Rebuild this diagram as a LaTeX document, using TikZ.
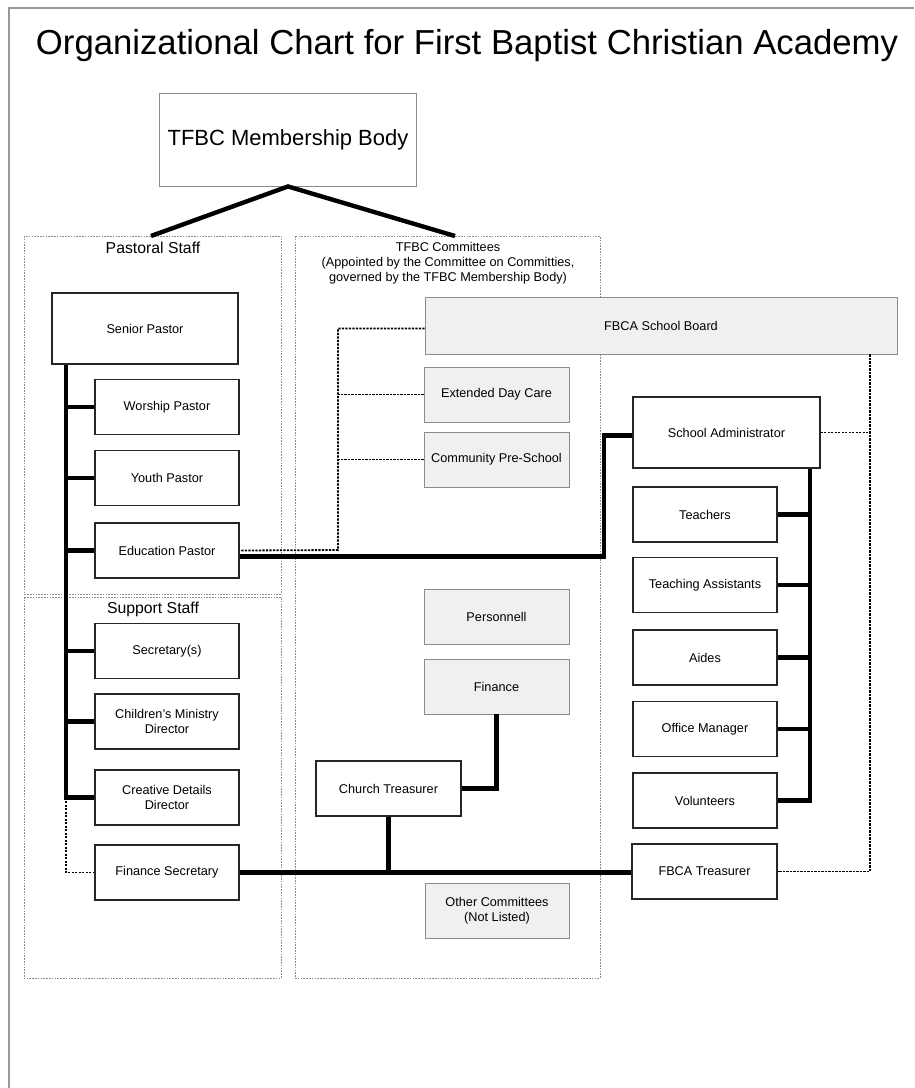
\documentclass[tikz,border=0pt]{standalone}
\usepackage{fontspec}
\setmainfont{Liberation Sans}
\begin{document}
\begin{tikzpicture}[x=1pt,y=-1pt,
  bx/.style={draw=black!85,line width=1.4pt,fill=white,minimum width=144pt,minimum height=55pt,inner sep=2pt,align=center,font=\fontsize{12.7}{14.5}\selectfont},
  gbx/.style={bx,draw=black!45,line width=0.9pt,fill=black!6},
  container/.style={draw=black!45,line width=0.8pt,dash pattern=on 1.6pt off 1.2pt},
  thickline/.style={line width=4.4pt},
  dotline/.style={line width=1.8pt,dash pattern=on 2.2pt off 1.3pt},
  lbl/.style={inner sep=0pt,font=\fontsize{15.8}{18}\selectfont}]
\useasboundingbox (0,0) rectangle (914,1088);
% page border
\draw[black!40,line width=1.2pt] (9,1088) -- (9,8) -- (914,8);
% title
\node[anchor=base,inner sep=0pt,font=\fontsize{34.7}{40}\selectfont] (title) at (467,54) {Organizational Chart for First Baptist Christian Academy};
% containers
\draw[container] (24,236) rectangle (281,594);
\draw[container] (24,597) rectangle (281,978);
\draw[container] (295,236) rectangle (600,978);
\node[lbl] (plabel) at (153,248) {Pastoral Staff};
\node[lbl] (slabel) at (153,609) {Support Staff};
\node[inner sep=0pt,align=center,font=\fontsize{12.7}{15}\selectfont] (clabel) at (448,263) {TFBC Committees\\(Appointed by the Committee on Committies,\\governed by the TFBC Membership Body)};
% membership
\node[bx,draw=black!45,line width=0.9pt,minimum width=257pt,minimum height=93pt,font=\fontsize{22}{26}\selectfont] (member) at (288,139.5) {TFBC Membership Body};
\coordinate (pA) at (151,236);
\coordinate (cA) at (455,236);
\draw[thickline] (pA) -- (member.south) -- (cA);
% pastoral
\node[bx,minimum width=186pt,minimum height=71pt] (senior) at (145,328.5) {Senior Pastor};
\node[bx] (worship) at (167,407) {Worship Pastor};
\node[bx] (youth) at (167,478) {Youth Pastor};
\node[bx] (edu) at (167,550.5) {Education Pastor};
% support
\node[bx] (sec) at (167,651) {Secretary(s)};
\node[bx] (child) at (167,721.5) {Children's Ministry\\Director};
\node[bx] (creative) at (167,797.5) {Creative Details\\Director};
\node[bx] (finsec) at (167,872.5) {Finance Secretary};
% committees
\node[gbx,minimum width=472pt,minimum height=57pt] (board) at (661,325.5) {FBCA School Board};
\node[gbx,minimum width=145pt] (edc) at (496.5,394.5) {Extended Day Care};
\node[gbx,minimum width=145pt] (cps) at (496.5,459.5) {Community Pre-School};
\node[gbx,minimum width=145pt] (pers) at (496.5,617) {Personnell};
\node[gbx,minimum width=145pt] (fin) at (496.5,686.5) {Finance};
\node[gbx,minimum width=144pt] (other) at (497,910.5) {Other Committees\\(Not Listed)};
\node[bx,minimum width=145pt] (churchT) at (388.5,788.5) {Church Treasurer};
% school
\node[bx,minimum width=187pt,minimum height=71pt] (admin) at (726.5,432.5) {School Administrator};
\node[bx] (teachers) at (705,514.5) {Teachers};
\node[bx] (ta) at (705,585) {Teaching Assistants};
\node[bx] (aides) at (705,657.5) {Aides};
\node[bx] (office) at (705,729) {Office Manager};
\node[bx] (vol) at (705,800.5) {Volunteers};
\node[bx,minimum width=145pt] (fbcaT) at (704.5,871.5) {FBCA Treasurer};
% coordinates
\coordinate (ls) at (66,0);
\coordinate (dc) at (338,550);
\coordinate (ej) at (604,0);
\coordinate (rs) at (810,0);
\coordinate (rx) at (870,0);
% pastoral spine
\draw[thickline] (senior.south -| ls) |- (creative.west);
\foreach \n in {worship,youth,edu,sec,child}{\draw[thickline] (\n.west) -- (\n.west -| ls);}
\draw[dotline] (creative.west -| ls) |- (finsec.west);
% committee dotted
\draw[dotline] ([yshift=-3pt]board.west) -| (dc) -- (edu.east);
\draw[dotline] (edc.west) -- (edc.west -| dc);
\draw[dotline] (cps.west) -- (cps.west -| dc);
% education to admin
\draw[thickline] ([yshift=-6pt]edu.east) -| ([yshift=-3pt]admin.west -| ej) -- ([yshift=-3pt]admin.west);
% admin spine
\draw[thickline] (admin.south -| rs) |- (vol.east);
\foreach \n in {teachers,ta,aides,office}{\draw[thickline] (\n.east) -- (\n.east -| rs);}
% right dotted
\draw[dotline] (board.south -| rx) |- (fbcaT.east);
\draw[dotline] (admin.east) -- (admin.east -| rx);
% finance
\draw[thickline] (fin.south) |- (churchT.east);
\draw[thickline] (churchT.south) -- (churchT.south |- finsec.east);
\draw[thickline] (finsec.east) -- (finsec.east -| fbcaT.west);
\end{tikzpicture}
\end{document}
